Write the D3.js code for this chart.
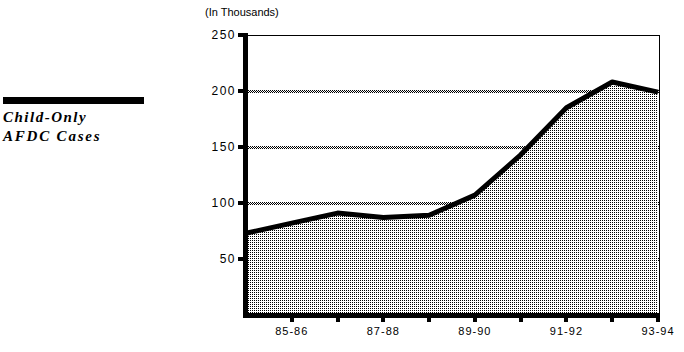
<!DOCTYPE html>
<html>
<head>
<meta charset="utf-8">
<script src="https://cdn.jsdelivr.net/npm/d3@7"></script>
<style>
  body{margin:0;background:#fff;}
  svg{display:block;}
</style>
</head>
<body>
<div id="chart"></div>
<script>
let w=684;
let h=352;

// data
let years=["84-85","85-86","86-87","87-88","88-89","89-90","90-91","91-92","92-93","93-94"];
let cases=[73,82,91,87,89,107,143,185,208,199];
let yTicks=[50,100,150,200,250];
let xLabels=["85-86","87-88","89-90","91-92","93-94"];

let viz=d3.select("#chart").append("svg")
  .attr("width",w)
  .attr("height",h)
  ;

let defs=viz.append("defs");
// dotted fill under the line
let dots=defs.append("pattern")
  .attr("id","dots")
  .attr("width",2).attr("height",2)
  .attr("patternUnits","userSpaceOnUse");
dots.append("rect").attr("width",2).attr("height",2).attr("fill","white").attr("shape-rendering","crispEdges");
dots.append("rect").attr("width",1).attr("height",1).attr("fill","black").attr("shape-rendering","crispEdges");

// checker pattern for the gridlines
let checker=defs.append("pattern")
  .attr("id","checker")
  .attr("width",2).attr("height",2)
  .attr("patternUnits","userSpaceOnUse");
checker.append("rect").attr("width",2).attr("height",2).attr("fill","white").attr("shape-rendering","crispEdges");
checker.append("rect").attr("width",1).attr("height",1).attr("fill","black").attr("shape-rendering","crispEdges");
checker.append("rect").attr("x",1).attr("y",1).attr("width",1).attr("height",1).attr("fill","black").attr("shape-rendering","crispEdges");

let xScale=d3.scalePoint().domain(years).range([246,658]);
let yScale=d3.scaleLinear().domain([0,250]).range([315,35]);

// gridlines
viz.selectAll(".grid").data(yTicks.filter(d=>d<250)).enter()
  .append("rect")
  .attr("class","grid")
  .attr("x",248)
  .attr("y",d=>Math.round(yScale(d))-1)
  .attr("width",412)
  .attr("height",3)
  .attr("fill","url(#checker)")
  .attr("shape-rendering","crispEdges")
  ;

// frame top + right
viz.append("path")
  .attr("d","M248,"+(yScale(250)+0.5)+"H659.5V316")
  .attr("fill","none")
  .attr("stroke","black")
  .attr("stroke-width",1)
  .attr("shape-rendering","crispEdges")
  ;

// area
let area=d3.area()
  .x(d=>xScale(d.year))
  .y0(yScale(0))
  .y1(d=>yScale(d.value));
let lineMaker=d3.line()
  .x(d=>xScale(d.year))
  .y(d=>yScale(d.value));

let data=years.map((y,i)=>({year:y,value:cases[i]}));

viz.append("path")
  .datum(data)
  .attr("d",area)
  .attr("fill","url(#dots)")
  .attr("shape-rendering","crispEdges")
  ;

viz.append("path")
  .datum(data)
  .attr("d",lineMaker)
  .attr("fill","none")
  .attr("stroke","black")
  .attr("stroke-width",5)
  .attr("stroke-linejoin","round")
  ;

// axes (thick)
viz.append("line")
  .attr("x1",245.5).attr("x2",245.5)
  .attr("y1",33).attr("y2",318)
  .attr("stroke","black").attr("stroke-width",5)
  .attr("shape-rendering","crispEdges");
viz.append("line")
  .attr("x1",243).attr("x2",660)
  .attr("y1",315.5).attr("y2",315.5)
  .attr("stroke","black").attr("stroke-width",5)
  .attr("shape-rendering","crispEdges");

// y ticks + labels
viz.selectAll(".ytick").data(yTicks).enter()
  .append("rect")
  .attr("class","ytick")
  .attr("x",238)
  .attr("y",d=>Math.round(yScale(d))-2)
  .attr("width",6)
  .attr("height",4)
  .attr("fill","black");
viz.selectAll(".ylabel").data(yTicks).enter()
  .append("text")
  .attr("class","ylabel")
  .text(d=>d)
  .attr("x",236)
  .attr("y",d=>yScale(d)+4)
  .attr("text-anchor","end")
  .style("font-family","'Liberation Sans', Arial, sans-serif")
  .style("font-size","12px")
  .style("letter-spacing","1.5px")
  ;

// x ticks + labels
viz.selectAll(".xtick").data(years.slice(1)).enter()
  .append("rect")
  .attr("class","xtick")
  .attr("x",d=>Math.round(xScale(d))-2)
  .attr("y",317)
  .attr("width",4)
  .attr("height",5)
  .attr("fill","black");
viz.selectAll(".xlabel").data(xLabels).enter()
  .append("text")
  .attr("class","xlabel")
  .text(d=>d)
  .attr("x",d=>xScale(d))
  .attr("y",335)
  .attr("text-anchor","middle")
  .style("font-family","'Liberation Sans', Arial, sans-serif")
  .style("font-size","11px")
  .style("letter-spacing","1px")
  ;

// unit label
viz.append("text")
  .text("(In Thousands)")
  .attr("x",205)
  .attr("y",16)
  .style("font-family","'Liberation Sans', Arial, sans-serif")
  .style("font-size","11px")
  ;

// legend
viz.append("rect")
  .attr("x",3).attr("y",97)
  .attr("width",141).attr("height",7)
  .attr("fill","black");
viz.append("text")
  .text("Child-Only")
  .attr("x",3)
  .attr("y",122)
  .style("font-family","'Liberation Serif', 'Times New Roman', serif")
  .style("font-style","italic")
  .style("font-weight","bold")
  .style("font-size","15px")
  .style("letter-spacing","1.5px")
  ;
viz.append("text")
  .text("AFDC Cases")
  .attr("x",3)
  .attr("y",141)
  .style("font-family","'Liberation Serif', 'Times New Roman', serif")
  .style("font-style","italic")
  .style("font-weight","bold")
  .style("font-size","15px")
  .style("letter-spacing","1.8px")
  ;
</script>
</body>
</html>
